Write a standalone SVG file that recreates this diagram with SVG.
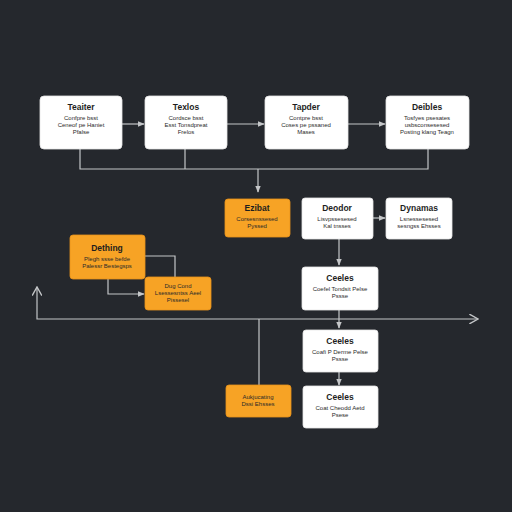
<svg xmlns="http://www.w3.org/2000/svg" width="512" height="512" viewBox="0 0 512 512">
<defs>
<style>
.w{fill:#ffffff;stroke:#e6e6e6;stroke-width:0.8}
.o{fill:#f7a325;stroke:#e8921a;stroke-width:0.8}
.t{font-family:"Liberation Sans",Arial,sans-serif;font-size:8.5px;fill:#1e1e1e;text-anchor:middle;font-weight:bold}
.s{font-family:"Liberation Sans",Arial,sans-serif;font-size:6px;fill:#2a2a2a;text-anchor:middle}
.c{fill:none;stroke:#c4c6c8;stroke-width:1.2}
</style>
<marker id="a" viewBox="0 0 10 10" refX="9" refY="5" markerWidth="6" markerHeight="6" orient="auto-start-reverse">
<path d="M0,1 L10,5 L0,9 Z" fill="#c4c6c8"/>
</marker>
<marker id="v" viewBox="0 0 10 10" refX="9" refY="5" markerWidth="9" markerHeight="9" orient="auto-start-reverse">
<path d="M1,0.5 L9,5 L1,9.5" fill="none" stroke="#c4c6c8" stroke-width="1.3"/>
</marker>
</defs>
<rect width="512" height="512" fill="#25282d"/>
<g id="connectors">
<path class="c" d="M122,124 H144" marker-end="url(#a)"/>
<path class="c" d="M227,124 H264" marker-end="url(#a)"/>
<path class="c" d="M348,124 H385" marker-end="url(#a)"/>
<path class="c" d="M80,149 V169 H428 V149"/>
<path class="c" d="M185,149 V169"/>
<path class="c" d="M258,169 V192" marker-end="url(#a)"/>
<path class="c" d="M373,218 H385" marker-end="url(#a)"/>
<path class="c" d="M339,239 V265" marker-end="url(#a)"/>
<path class="c" d="M145,256 H175 V277"/>
<path class="c" d="M108,279 V294 H144" marker-end="url(#a)"/>
<path class="c" d="M37,287 V319 H478" marker-start="url(#v)" marker-end="url(#v)"/>
<path class="c" d="M339,310 V328" marker-end="url(#a)"/>
<path class="c" d="M259,319 V385"/>
<path class="c" d="M339,372 V385" marker-end="url(#a)"/>
</g>
<g id="n1"><rect class="w" x="40" y="96" width="82" height="53" rx="4"/>
<text class="t" x="81" y="110">Teaiter</text>
<text class="s" x="81" y="120">Confpre bsst</text>
<text class="s" x="81" y="127">Ceneof pe Haniet</text>
<text class="s" x="81" y="134">Pfalse</text></g>
<g id="n2"><rect class="w" x="145" y="96" width="82" height="53" rx="4"/>
<text class="t" x="186" y="110">Texlos</text>
<text class="s" x="186" y="120">Cordsce bsst</text>
<text class="s" x="186" y="127">Esst Tonsdpreat</text>
<text class="s" x="186" y="134">Frelos</text></g>
<g id="n3"><rect class="w" x="265" y="96" width="83" height="53" rx="4"/>
<text class="t" x="306" y="110">Tapder</text>
<text class="s" x="306" y="120">Contpre bsst</text>
<text class="s" x="306" y="127">Coses pe pssaned</text>
<text class="s" x="306" y="134">Mases</text></g>
<g id="n4"><rect class="w" x="386" y="96" width="83" height="53" rx="4"/>
<text class="t" x="427" y="110">Deibles</text>
<text class="s" x="427" y="120">Tosfyes psesates</text>
<text class="s" x="427" y="127">usbsconsesesed</text>
<text class="s" x="427" y="134">Posting klang Teagn</text></g>
<g id="n5"><rect class="o" x="225" y="199" width="65" height="38" rx="3"/>
<text class="t" x="257" y="211">Ezibat</text>
<text class="s" x="257" y="221">Corsesnssesed</text>
<text class="s" x="257" y="228">Pyssed</text></g>
<g id="n6"><rect class="w" x="302" y="198" width="71" height="41" rx="3"/>
<text class="t" x="337" y="211">Deodor</text>
<text class="s" x="337" y="221">Lisvpssesesed</text>
<text class="s" x="337" y="228">Kal tnsses</text></g>
<g id="n7"><rect class="w" x="386" y="198" width="66" height="41" rx="3"/>
<text class="t" x="419" y="211">Dynamas</text>
<text class="s" x="419" y="221">Lsnessesesed</text>
<text class="s" x="419" y="228">sesngss Ehsses</text></g>
<g id="n8"><rect class="o" x="70" y="235" width="75" height="44" rx="3"/>
<text class="t" x="107" y="251">Dething</text>
<text class="s" x="107" y="261">Plegh ssse befde</text>
<text class="s" x="107" y="268">Palessr Bestegsps</text></g>
<g id="n9"><rect class="o" x="145" y="277" width="66" height="33" rx="3"/>
<text class="s" x="178" y="288">Dug Cond</text>
<text class="s" x="178" y="295">Lsessesntss Aeel</text>
<text class="s" x="178" y="302">Pissesel</text></g>
<g id="n10"><rect class="w" x="302" y="267" width="76" height="43" rx="3"/>
<text class="t" x="340" y="281">Ceeles</text>
<text class="s" x="340" y="291">Coefel Tondsit Pelse</text>
<text class="s" x="340" y="298">Pssse</text></g>
<g id="n11"><rect class="w" x="303" y="330" width="75" height="42" rx="3"/>
<text class="t" x="340" y="344">Ceeles</text>
<text class="s" x="340" y="354">Coafi P Derme Pelse</text>
<text class="s" x="340" y="361">Pssse</text></g>
<g id="n12"><rect class="o" x="226" y="385" width="65" height="32" rx="3"/>
<text class="s" x="258" y="399">Aukjucating</text>
<text class="s" x="258" y="406">Dssi Ehsses</text></g>
<g id="n13"><rect class="w" x="303" y="386" width="75" height="42" rx="3"/>
<text class="t" x="340" y="400">Ceeles</text>
<text class="s" x="340" y="410">Coat Cheodd Aetd</text>
<text class="s" x="340" y="417">Psese</text></g>
</svg>
